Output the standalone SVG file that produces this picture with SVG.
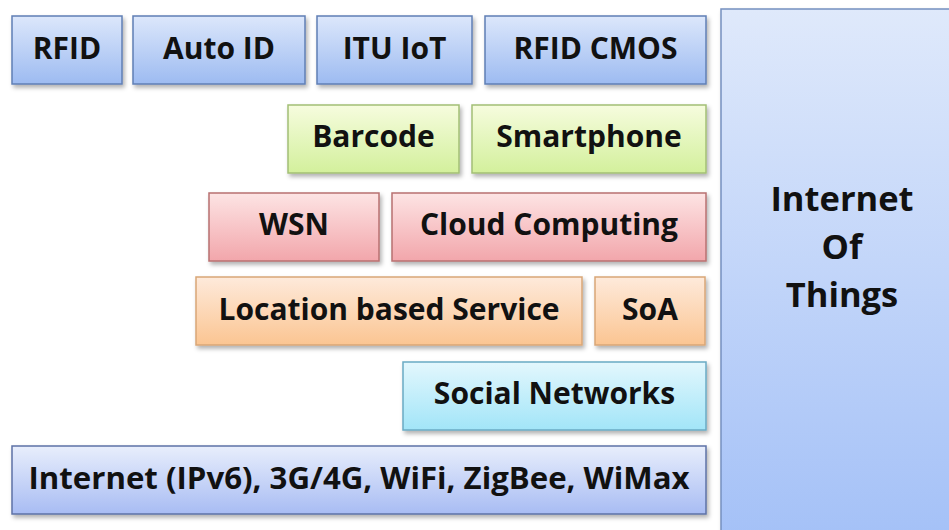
<svg xmlns="http://www.w3.org/2000/svg" width="949" height="530" viewBox="0 0 949 530">
<defs>
<linearGradient id="gBlue" x1="0" y1="0" x2="0" y2="1"><stop offset="0" stop-color="#dce7fb"/><stop offset="1" stop-color="#9dbbf1"/></linearGradient>
<linearGradient id="gGreen" x1="0" y1="0" x2="0" y2="1"><stop offset="0" stop-color="#f6fcde"/><stop offset="1" stop-color="#d3f09c"/></linearGradient>
<linearGradient id="gRed" x1="0" y1="0" x2="0" y2="1"><stop offset="0" stop-color="#fde4e4"/><stop offset="1" stop-color="#f2a6ab"/></linearGradient>
<linearGradient id="gOrange" x1="0" y1="0" x2="0" y2="1"><stop offset="0" stop-color="#feeadb"/><stop offset="1" stop-color="#fbc592"/></linearGradient>
<linearGradient id="gCyan" x1="0" y1="0" x2="0" y2="1"><stop offset="0" stop-color="#e3f7fd"/><stop offset="1" stop-color="#a2e5f8"/></linearGradient>
<linearGradient id="gLav" x1="0" y1="0" x2="0" y2="1"><stop offset="0" stop-color="#e8eefc"/><stop offset="1" stop-color="#a8bcf3"/></linearGradient>
<linearGradient id="gBig" x1="0" y1="0" x2="0" y2="1"><stop offset="0" stop-color="#dfe9fb"/><stop offset="1" stop-color="#a3c0f7"/></linearGradient>
<filter id="sh" x="-10%" y="-20%" width="120%" height="150%"><feDropShadow dx="2" dy="3" stdDeviation="2" flood-color="#000" flood-opacity="0.3"/></filter>
</defs>
<style>
.box{stroke-width:1.5;filter:url(#sh)}
.blue{fill:url(#gBlue);stroke:#5f7fb5}
.green{fill:url(#gGreen);stroke:#a3bf75}
.red{fill:url(#gRed);stroke:#b87070}
.orange{fill:url(#gOrange);stroke:#d9a677}
.cyan{fill:url(#gCyan);stroke:#6aaac4}
.lav{fill:url(#gLav);stroke:#5d72a6}
.big{fill:url(#gBig);stroke:#7590c0}
text{font-family:"Open Sans","Noto Sans","Liberation Sans",sans-serif;font-weight:bold;font-size:30px;fill:#111111;text-anchor:middle}
.t-big{font-size:34.5px}
.t-bar{font-size:31.2px}
</style>
<rect width="949" height="530" fill="#ffffff"/>
<g id="iot"><rect class="box big" x="721" y="9" width="250" height="540"/>
<text class="t-big" x="842" y="211">Internet</text><text class="t-big" x="842" y="259">Of</text><text class="t-big" x="842" y="307">Things</text></g>
<g id="rfid"><rect class="box blue" x="12" y="16" width="110" height="68"/><text x="67" y="58.5">RFID</text></g>
<g id="autoid"><rect class="box blue" x="133" y="16" width="172" height="68"/><text x="219" y="58.5">Auto ID</text></g>
<g id="ituiot"><rect class="box blue" x="317" y="16" width="155" height="68"/><text x="394.5" y="58.5">ITU IoT</text></g>
<g id="rfidcmos"><rect class="box blue" x="485" y="16" width="221" height="68"/><text x="595.5" y="58.5">RFID CMOS</text></g>
<g id="barcode"><rect class="box green" x="288" y="105" width="171" height="68"/><text x="373.5" y="147">Barcode</text></g>
<g id="smartphone"><rect class="box green" x="472" y="105" width="234" height="68"/><text x="589" y="147">Smartphone</text></g>
<g id="wsn"><rect class="box red" x="209" y="193" width="170" height="68"/><text x="294" y="235">WSN</text></g>
<g id="cloud"><rect class="box red" x="392" y="193" width="314" height="68"/><text x="549" y="235">Cloud Computing</text></g>
<g id="lbs"><rect class="box orange" x="196" y="277" width="386" height="68"/><text x="389" y="319.5">Location based Service</text></g>
<g id="soa"><rect class="box orange" x="595" y="277" width="110" height="68"/><text x="650" y="319.5">SoA</text></g>
<g id="social"><rect class="box cyan" x="403" y="362" width="303" height="68"/><text x="554.5" y="404">Social Networks</text></g>
<g id="internet"><rect class="box lav" x="12" y="446" width="694" height="68"/><text class="t-bar" x="359" y="488.5">Internet (IPv6), 3G/4G, WiFi, ZigBee, WiMax</text></g>
<g id="connectors"></g>
</svg>
